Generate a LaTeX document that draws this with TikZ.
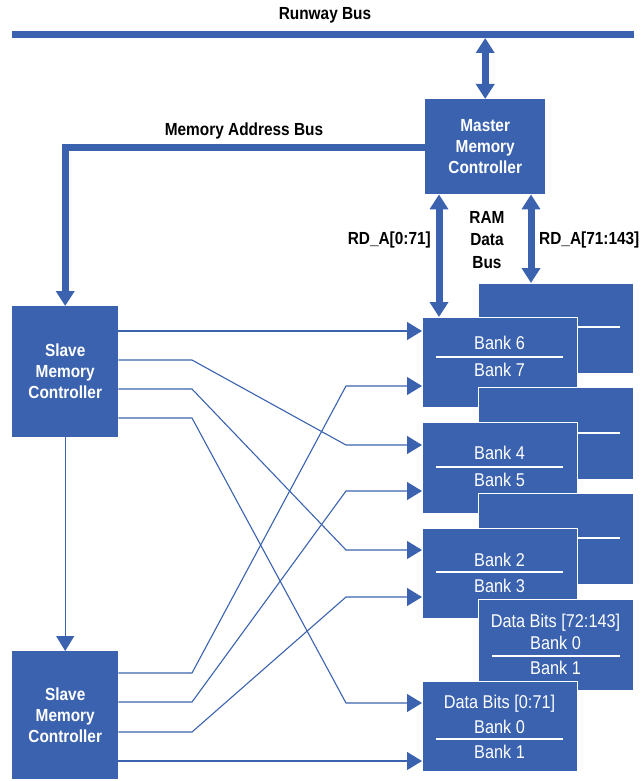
\documentclass[tikz,border=0pt]{standalone}
\usepackage{fontspec}
\setmainfont{Liberation Sans}[FakeStretch=0.88]
\usetikzlibrary{arrows.meta}
\definecolor{hpblue}{HTML}{3A62AE}

\tikzset{
  >={Triangle[length=15pt,width=18pt]},
  ctrl/.style={fill=hpblue, draw=none, anchor=north west, inner sep=0pt,
    text=white, align=center, font=\bfseries\fontsize{17.5}{21}\selectfont},
  membox/.style={fill=hpblue, draw=white, line width=1pt, anchor=north west,
    minimum width=155pt, minimum height=90pt, inner sep=0pt},
  banktxt/.style={text=white, inner sep=0pt, text height=13.2pt, text depth=0pt,
    font=\fontsize{18.5}{21}\selectfont},
  divider/.style={draw=white, line width=1.4pt},
  lbl/.style={inner sep=0pt, text=black, align=center,
    font=\bfseries\fontsize{17.5}{22.5}\selectfont},
  bus/.style={draw=hpblue, line width=7pt},
  wire/.style={draw=hpblue, line width=1.1pt, ->},
}

\begin{document}
\begin{tikzpicture}[x=1pt,y=-1pt]
\useasboundingbox (0,0) rectangle (641,781);

% ---- controllers ----
\node[ctrl, minimum width=120pt, minimum height=95pt] (mmc) at (425,99) {Master\\Memory\\Controller};
\node[ctrl, minimum width=106pt, minimum height=131pt] (sm1) at (12,306) {Slave\\Memory\\Controller};
\node[ctrl, minimum width=106pt, minimum height=128pt] (sm2) at (12,651) {Slave\\Memory\\Controller};

% ---- memory banks (back row drawn before the front row it sits behind) ----
\node[membox] (bk67) at (478,283) {};
\draw[divider] (492,327) -- (620,327);
\node[membox] (fr67) at (422,317) {};
\draw[divider] (436,357) -- (563,357);
\node[banktxt] (t6) at (499.5,343) {Bank 6};
\node[banktxt] (t7) at (499.5,370) {Bank 7};

\node[membox, minimum height=92pt] (bk45) at (478,387) {};
\draw[divider] (492,433) -- (620,433);
\node[membox, minimum height=91pt] (fr45) at (422,422) {};
\draw[divider] (436,467) -- (563,467);
\node[banktxt] (t4) at (499.5,453) {Bank 4};
\node[banktxt] (t5) at (499.5,480) {Bank 5};

\node[membox, minimum height=91pt] (bk23) at (478,493) {};
\draw[divider] (492,538) -- (620,538);
\node[membox] (fr23) at (422,528) {};
\draw[divider] (436,572) -- (563,572);
\node[banktxt] (t2) at (499.5,560) {Bank 2};
\node[banktxt] (t3) at (499.5,586) {Bank 3};

\node[membox, minimum height=91pt] (bk01) at (478,599) {};
\draw[divider] (492,656) -- (620,656);
\node[banktxt] (hdb) at (555.5,621) {Data Bits [72:143]};
\node[banktxt] (tb0) at (555.5,643) {Bank 0};
\node[banktxt] (tb1) at (555.5,668) {Bank 1};
\node[membox] (fr01) at (422,681) {};
\draw[divider] (436,739) -- (563,739);
\node[banktxt] (hda) at (499.5,702) {Data Bits [0:71]};
\node[banktxt] (ta0) at (499.5,727) {Bank 0};
\node[banktxt] (ta1) at (499.5,752) {Bank 1};

% ---- buses ----
\coordinate (rwL) at (12,34.5);
\coordinate (rwR) at (634,34.5);
\draw[bus] (rwL) -- (rwR);
\node[lbl] (rwlbl) at (325,15) {Runway Bus};
\draw[bus,<->] (rwR -| mmc.north) ++(0,3.5) -- (mmc.north);

\coordinate (mab) at (0,147);
\draw[bus,->] (mmc.west |- mab) -- (sm1.north |- mab) -- (sm1.north);
\node[lbl] (mablbl) at (244,131) {Memory Address Bus};

\coordinate (colA) at (439,0);
\coordinate (colB) at (531,0);
\draw[bus,<->] (mmc.south -| colA) -- (fr67.north -| colA);
\draw[bus,<->] (mmc.south -| colB) -- (bk67.north -| colB);
\node[lbl, anchor=east] (rdlo) at (431,240) {RD\_A[0:71]};
\node[lbl] (ramlbl) at (487,240) {RAM\\Data\\Bus};
\node[lbl, anchor=west] (rdhi) at (539,240) {RD\_A[71:143]};

% ---- address/control wires ----
\draw[wire] (sm1.south) -- (sm2.north);

\coordinate (bx1) at (192,0);
\coordinate (bx2) at (346,0);

\draw[wire] (sm1.east |- 0,331) -- (fr67.west |- 0,331);
\draw[wire] (sm1.east |- 0,360) -- (bx1 |- 0,360) -- (bx2 |- 0,445) -- (fr45.west |- 0,445);
\draw[wire] (sm1.east |- 0,389) -- (bx1 |- 0,389) -- (bx2 |- 0,550) -- (fr23.west |- 0,550);
\draw[wire] (sm1.east |- 0,418) -- (bx1 |- 0,418) -- (bx2 |- 0,703) -- (fr01.west |- 0,703);

\draw[wire] (sm2.east |- 0,673) -- (bx1 |- 0,673) -- (bx2 |- 0,386) -- (fr67.west |- 0,386);
\draw[wire] (sm2.east |- 0,702) -- (bx1 |- 0,702) -- (bx2 |- 0,491) -- (fr45.west |- 0,491);
\draw[wire] (sm2.east |- 0,732) -- (bx1 |- 0,732) -- (bx2 |- 0,597) -- (fr23.west |- 0,597);
\draw[wire] (sm2.east |- 0,761) -- (fr01.west |- 0,761);
\end{tikzpicture}
\end{document}
